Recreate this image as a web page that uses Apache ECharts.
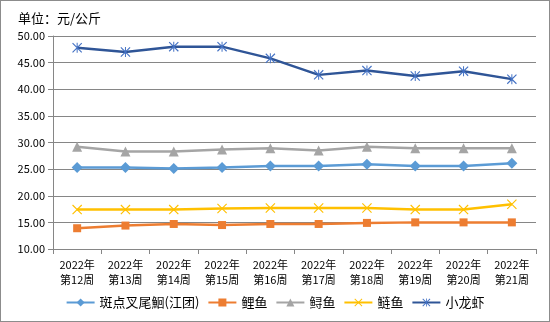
<!DOCTYPE html>
<html><head><meta charset="utf-8">
<script src="https://cdn.jsdelivr.net/npm/echarts@6/dist/echarts.min.js"></script>
<style>html,body{margin:0;padding:0;background:#fff}#c{width:550px;height:322px;box-sizing:border-box;border:1px solid #8c8c8c}</style>
</head><body><div id="c"></div>
<script>
var categories = ['2022年\n第12周','2022年\n第13周','2022年\n第14周','2022年\n第15周','2022年\n第16周','2022年\n第17周','2022年\n第18周','2022年\n第19周','2022年\n第20周','2022年\n第21周'];
var seriesNames = ['斑点叉尾鮰(江团)','鲤鱼','鲟鱼','鲢鱼','小龙虾'];
var catfish = [25.3, 25.3, 25.1, 25.3, 25.6, 25.6, 25.9, 25.6, 25.6, 26.1];
var carp = [13.9, 14.4, 14.7, 14.5, 14.7, 14.7, 14.9, 15.0, 15.0, 15.0];
var sturgeon = [29.2, 28.3, 28.3, 28.7, 28.9, 28.5, 29.2, 28.9, 28.9, 28.9];
var silverCarp = [17.4, 17.4, 17.4, 17.6, 17.7, 17.7, 17.7, 17.4, 17.4, 18.4];
var crayfish = [47.8, 47.0, 48.0, 48.0, 45.8, 42.7, 43.5, 42.5, 43.4, 41.9];

var xPath = 'path://M0,0.8L0.8,0L10,9.2L9.2,10ZM0.8,10L0,9.2L9.2,0L10,0.8Z';
var starPath = 'path://M0,0.8L0.8,0L10,9.2L9.2,10ZM0.8,10L0,9.2L9.2,0L10,0.8ZM4.5,0L5.5,0L5.5,10L4.5,10Z';
var font = '"Noto Sans CJK SC", sans-serif';

function mk(name, data, color, mcolor, symbol, size) {
  return {
    name: name, type: 'line', data: data,
    symbol: symbol, symbolSize: size, showSymbol: true,
    lineStyle: {color: color, width: 2.5},
    itemStyle: {color: mcolor, borderWidth: 0},
    emphasis: {disabled: true}, animation: false
  };
}

var chart = echarts.init(document.getElementById('c'));
chart.setOption({
  animation: false,
  textStyle: {fontFamily: font},
  title: {text: '单位：元/公斤', left: 12, top: 6, textStyle: {fontSize: 13, fontWeight: 'normal', color: '#000', fontFamily: font}},
  grid: {left: 52, right: 13, top: 35, bottom: 72, containLabel: false},
  legend: {
    bottom: 7, left: 'center', itemWidth: 28, itemHeight: 10, itemGap: 8,
    textStyle: {fontSize: 13, color: '#000', fontFamily: font},
    data: seriesNames
  },
  xAxis: {
    type: 'category', data: categories, boundaryGap: true,
    axisLine: {lineStyle: {color: '#868686', width: 1}},
    axisTick: {show: true, length: 5, lineStyle: {color: '#868686'}},
    axisLabel: {fontSize: 11, color: '#000', lineHeight: 15, margin: 8, interval: 0, fontFamily: font}
  },
  yAxis: {
    type: 'value', min: 10, max: 50, interval: 5,
    axisLine: {show: true, lineStyle: {color: '#868686'}},
    axisTick: {show: true, length: 5, lineStyle: {color: '#868686'}},
    splitLine: {lineStyle: {color: '#868686', width: 1}},
    axisLabel: {fontSize: 11, color: '#000', margin: 8, formatter: function(v){return v.toFixed(2);}, fontFamily: font}
  },
  series: [
    mk(seriesNames[0], catfish, '#5B9BD5', '#5B9BD5', 'diamond', 11),
    mk(seriesNames[1], carp, '#ED7D31', '#ED7D31', 'rect', 8),
    mk(seriesNames[2], sturgeon, '#A5A5A5', '#A5A5A5', 'triangle', 10),
    mk(seriesNames[3], silverCarp, '#FFC000', '#FFC000', xPath, 10),
    mk(seriesNames[4], crayfish, '#2F5597', '#4472C4', starPath, 10)
  ]
});
</script></body></html>
